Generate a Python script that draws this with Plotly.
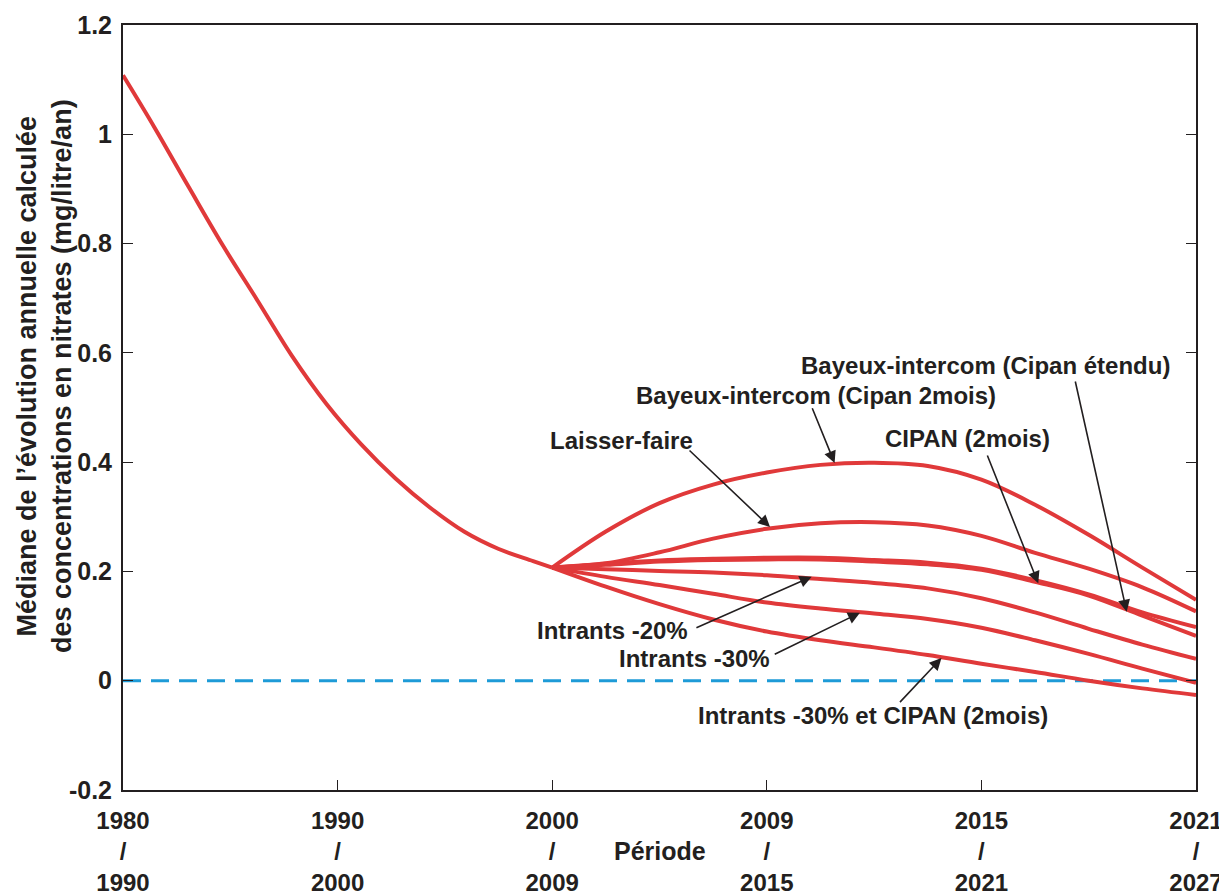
import plotly.graph_objects as go

# ---------------- data ----------------
period_labels = ["1980<br>/<br>1990", "1990<br>/<br>2000", "2000<br>/<br>2009",
                 "2009<br>/<br>2015", "2015<br>/<br>2021", "2021<br>/<br>2027"]
period_pos = [0, 1, 2, 3, 4, 5]

y_tick_vals = [-0.2, 0, 0.2, 0.4, 0.6, 0.8, 1.0, 1.2]
y_tick_text = ["-0.2", "0", "0.2", "0.4", "0.6", "0.8", "1", "1.2"]

# historical common curve (x in period index units)
main_x = [0.0, 0.146, 0.307, 0.467, 0.628, 0.788, 0.949, 1.109, 1.270, 1.430,
          1.591, 1.751, 1.911, 2.0]
main_y = [1.108, 1.013, 0.903, 0.7955, 0.695, 0.594, 0.506, 0.433, 0.370, 0.317,
          0.2725, 0.241, 0.219, 0.207]

# scenario branches (x in period index units)
branch_x = [2.0, 2.25, 2.5, 2.75, 3.0, 3.25, 3.5, 3.75, 4.0, 4.25, 4.5, 4.75, 5.0]
bayeux_2mois = [0.207, 0.273, 0.325, 0.359, 0.381, 0.395, 0.399, 0.393, 0.368, 0.322, 0.267, 0.207, 0.148]
laisser_faire = [0.207, 0.215, 0.235, 0.260, 0.278, 0.288, 0.290, 0.284, 0.265, 0.234, 0.205, 0.171, 0.127]
cipan_2mois = [0.207, 0.214, 0.220, 0.223, 0.225, 0.225, 0.221, 0.216, 0.205, 0.184, 0.158, 0.125, 0.098]
bayeux_etendu = [0.207, 0.212, 0.218, 0.221, 0.222, 0.222, 0.218, 0.213, 0.203, 0.181, 0.156, 0.119, 0.082]
intrants_20 = [0.207, 0.204, 0.201, 0.198, 0.193, 0.186, 0.179, 0.169, 0.151, 0.125, 0.095, 0.066, 0.040]
intrants_30 = [0.207, 0.190, 0.175, 0.159, 0.143, 0.132, 0.123, 0.113, 0.097, 0.074, 0.049, 0.022, -0.004]
intrants_30_cipan = [0.207, 0.172, 0.140, 0.112, 0.090, 0.074, 0.061, 0.047, 0.031, 0.016, 0.000, -0.014, -0.026]

branches = [bayeux_2mois, laisser_faire, cipan_2mois, bayeux_etendu,
            intrants_20, intrants_30, intrants_30_cipan]

# labels: (text, text_x, text_y, tail_x, tail_y, tip_x, tip_y)
labels = [
    ("Laisser-faire", 2.321, 0.4405, 2.633, 0.424, 3.015, 0.2813),
    ("Bayeux-intercom (Cipan 2mois)", 3.229, 0.5228, 3.209, 0.5014, 3.316, 0.3984),
    ("Bayeux-intercom (Cipan étendu)", 4.017, 0.576, 4.436, 0.5503, 4.677, 0.1263),
    ("CIPAN (2mois)", 3.933, 0.4441, 4.025, 0.4149, 4.265, 0.1782),
    ("Intrants -20%", 2.279, 0.0928, 2.665, 0.0959, 3.209, 0.1903),
    ("Intrants -30%", 2.661, 0.0415, 3.030, 0.047, 3.434, 0.1244),
    ("Intrants -30% et CIPAN (2mois)", 3.495, -0.0628, 3.614, -0.0419, 3.814, 0.0415),
]

# ---------------- style ----------------
RED = "#E0393A"
BLUE = "#1E9BD7"
INK = "#231F20"
FONT = "Liberation Sans, Arial, Helvetica, sans-serif"

fig = go.Figure()

fig.add_trace(go.Scatter(x=[period_pos[0], period_pos[-1]], y=[0, 0], mode="lines",
                         line=dict(color=BLUE, width=3, dash="18px,10px"),
                         hoverinfo="skip", showlegend=False))

fig.add_trace(go.Scatter(x=main_x, y=main_y, mode="lines",
                         line=dict(color=RED, width=4, shape="spline", smoothing=1),
                         showlegend=False))
for b in branches:
    fig.add_trace(go.Scatter(x=branch_x, y=b, mode="lines",
                             line=dict(color=RED, width=4, shape="spline", smoothing=1),
                             showlegend=False))

annotations = []
for text, tx, ty, ax, ay, x, y in labels:
    annotations.append(dict(x=tx, y=ty, xref="x", yref="y", text=text, showarrow=False,
                            xanchor="center", yanchor="middle",
                            font=dict(family=FONT, size=24, color=INK, weight="bold")))
    annotations.append(dict(x=x, y=y, xref="x", yref="y", ax=ax, ay=ay, axref="x", ayref="y",
                            text="", showarrow=True, arrowhead=2, arrowsize=1.5,
                            arrowwidth=1.6, arrowcolor=INK, standoff=0, startstandoff=0))

annotations.append(dict(x=0.5, y=(790 - 851) / 765, xref="paper", yref="paper", text="Période",
                        xanchor="center", yanchor="middle", showarrow=False,
                        font=dict(family=FONT, size=25, color=INK, weight="bold")))
annotations.append(dict(x=(44 - 123) / 1073, y=(790 - 376) / 765, xref="paper", yref="paper",
                        textangle=-90, xanchor="center", yanchor="middle",
                        text="Médiane de l’évolution annuelle calculée<br>des concentrations en nitrates (mg/litre/an)",
                        showarrow=False,
                        font=dict(family=FONT, size=27, color=INK, weight="bold")))

# the page body has an 8px margin, so the figure is offset by (8, 8) in the window
fig.update_layout(
    width=1219, height=887,
    margin=dict(l=115, r=31, t=17, b=105, autoexpand=False),
    paper_bgcolor="white", plot_bgcolor="white",
    annotations=annotations,
    showlegend=False,
)

fig.update_xaxes(range=[0, 5], tickvals=period_pos, ticktext=period_labels,
                 ticks="inside", ticklen=10, tickwidth=1.2, tickcolor=INK,
                 showline=True, linecolor=INK, linewidth=2, mirror=True,
                 showgrid=False, zeroline=False, automargin=False, ticklabelstandoff=8,
                 tickfont=dict(family=FONT, size=24, color=INK, weight="bold"))
fig.update_yaxes(range=[-0.2, 1.2], tickvals=y_tick_vals, ticktext=y_tick_text,
                 ticks="inside", ticklen=10, tickwidth=1.2, tickcolor=INK,
                 showline=True, linecolor=INK, linewidth=2, mirror="ticks",
                 showgrid=False, zeroline=False, automargin=False, ticklabelstandoff=4,
                 tickfont=dict(family=FONT, size=25, color=INK, weight="bold"))

fig.write_html("out.html")
